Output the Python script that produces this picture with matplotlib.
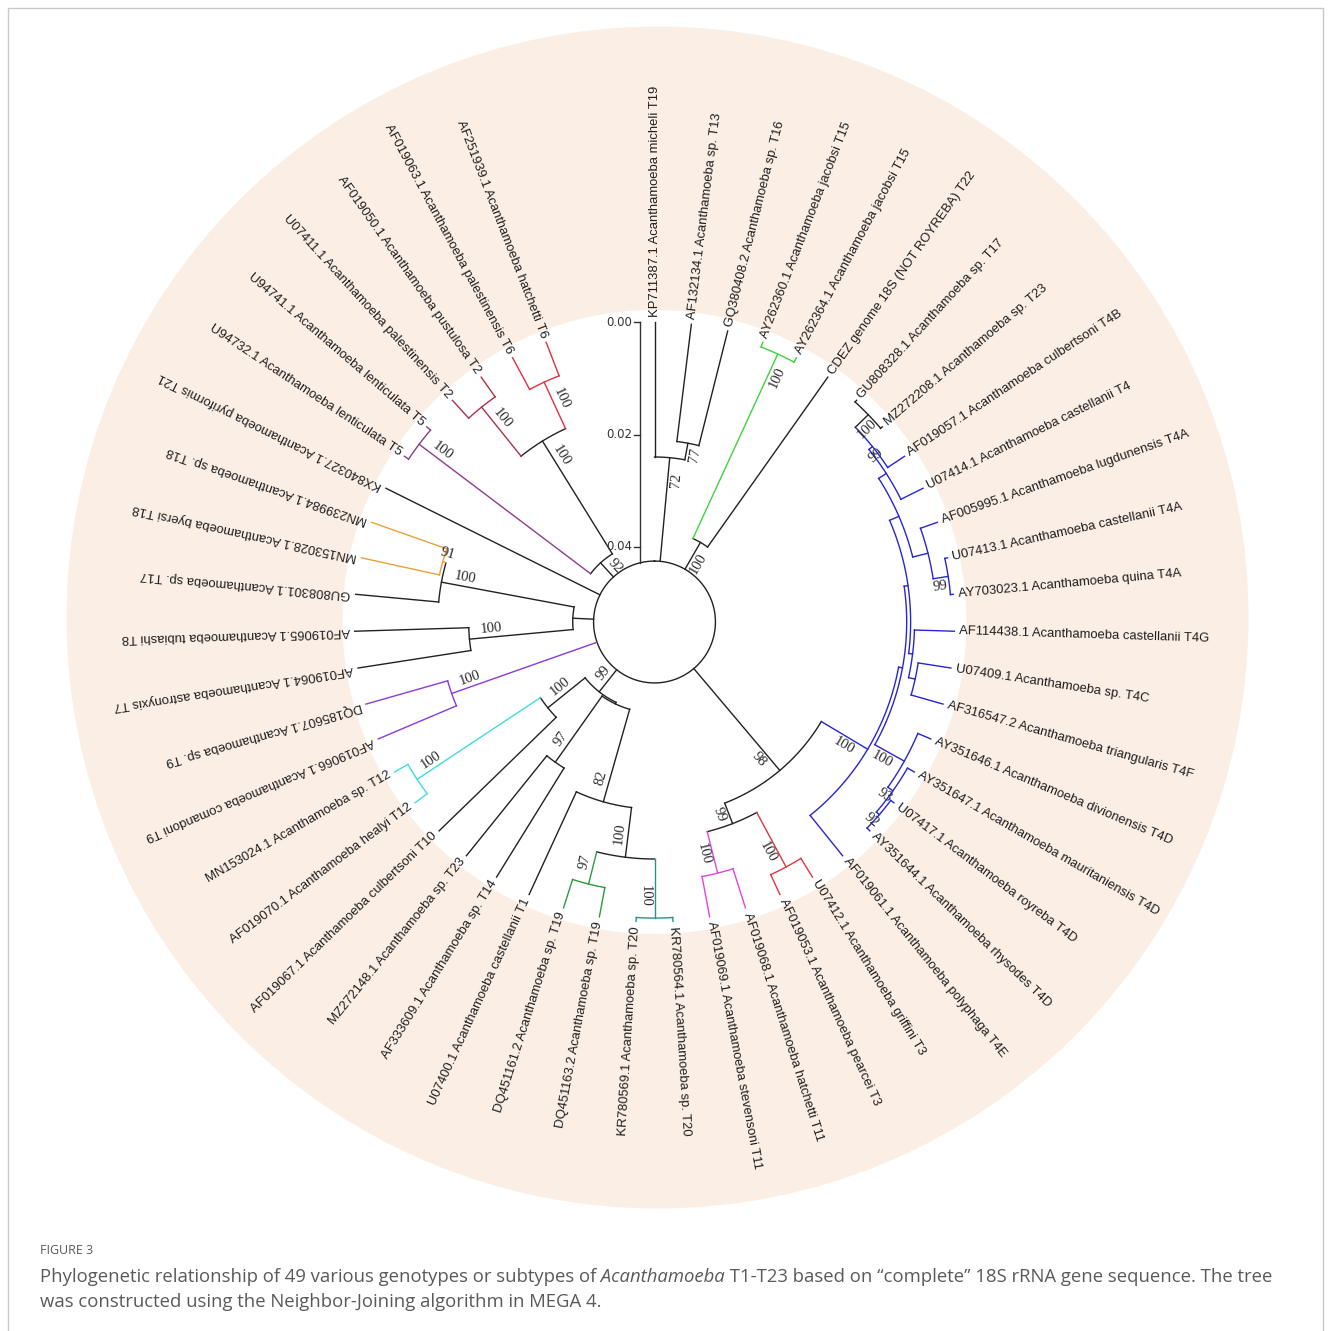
import numpy as np
import matplotlib
matplotlib.use("Agg")
import matplotlib.pyplot as plt
from matplotlib.patches import Rectangle

# tip labels, clockwise from the top
tip_labels = [
    "KP711387.1 Acanthamoeba micheli T19",
    "AF132134.1 Acanthamoeba sp. T13",
    "GQ380408.2 Acanthamoeba sp. T16",
    "AY262360.1 Acanthamoeba jacobsi T15",
    "AY262364.1 Acanthamoeba jacobsi T15",
    "CDEZ genome 18S (NOT ROYREBA) T22",
    "GU808328.1 Acanthamoeba sp. T17",
    "MZ272208.1 Acanthamoeba sp. T23",
    "AF019057.1 Acanthamoeba culbertsoni T4B",
    "U07414.1 Acanthamoeba castellanii T4",
    "AF005995.1 Acanthamoeba lugdunensis T4A",
    "U07413.1 Acanthamoeba castellanii T4A",
    "AY703023.1 Acanthamoeba quina T4A",
    "AF114438.1 Acanthamoeba castellanii T4G",
    "U07409.1 Acanthamoeba sp. T4C",
    "AF316547.2 Acanthamoeba triangularis T4F",
    "AY351646.1 Acanthamoeba divionensis T4D",
    "AY351647.1 Acanthamoeba mauritaniensis T4D",
    "U07417.1 Acanthamoeba royreba T4D",
    "AY351644.1 Acanthamoeba rhysodes T4D",
    "AF019061.1 Acanthamoeba polyphaga T4E",
    "U07412.1 Acanthamoeba griffini T3",
    "AF019053.1 Acanthamoeba pearcei T3",
    "AF019068.1 Acanthamoeba hatchetti T11",
    "AF019069.1 Acanthamoeba stevensoni T11",
    "KR780564.1 Acanthamoeba sp. T20",
    "KR780569.1 Acanthamoeba sp. T20",
    "DQ451163.2 Acanthamoeba sp. T19",
    "DQ451161.2 Acanthamoeba sp. T19",
    "U07400.1 Acanthamoeba castellanii T1",
    "AF333609.1 Acanthamoeba sp. T14",
    "MZ272148.1 Acanthamoeba sp. T23",
    "AF019067.1 Acanthamoeba culbertsoni T10",
    "AF019070.1 Acanthamoeba healyi T12",
    "MN153024.1 Acanthamoeba sp. T12",
    "AF019066.1 Acanthamoeba comandoni T9",
    "DQ185607.1 Acanthamoeba sp. T9",
    "AF019064.1 Acanthamoeba astronyxis T7",
    "AF019065.1 Acanthamoeba tubiashi T8",
    "GU808301.1 Acanthamoeba sp. T17",
    "MN153028.1 Acanthamoeba byersi T18",
    "MN239984.1 Acanthamoeba sp. T18",
    "KX840327.1 Acanthamoeba pyriformis T21",
    "U94732.1 Acanthamoeba lenticulata T5",
    "U94741.1 Acanthamoeba lenticulata T5",
    "U07411.1 Acanthamoeba palestinensis T2",
    "AF019050.1 Acanthamoeba pustulosa T2",
    "AF019063.1 Acanthamoeba palestinensis T6",
    "AF251939.1 Acanthamoeba hatchetti T6",
]

# internal nodes: children are tip indices or other node names
node_children = {
    "n2_3": [1, 2], "n1_23": [0, "n2_3"],
    "n4_5": [3, 4], "n45_6": ["n4_5", 5],
    "n7_8": [6, 7], "nX": ["n7_8", 8], "nY": ["nX", 9],
    "n12_13": [11, 12], "nZ": [10, "n12_13"], "nW": ["nY", "nZ"],
    "n15_16": [14, 15], "n14_": [13, "n15_16"], "nB": ["nW", "n14_"],
    "n19_20": [18, 19], "n18_": [17, "n19_20"], "nT4D": [16, "n18_"],
    "nA": ["nB", "nT4D"], "nT4": ["nA", 20],
    "n22_23": [21, 22], "n24_25": [23, 24], "nT3T11": ["n22_23", "n24_25"],
    "n98": ["nT4", "nT3T11"],
    "n26_27": [25, 26], "n28_29": [27, 28], "nP20": ["n26_27", "n28_29"],
    "n82": [29, "nP20"], "n31_32": [30, 31], "nT": ["n31_32", "n82"],
    "n34_35": [33, 34], "nQ": [32, "n34_35"], "n99": ["nT", "nQ"],
    "n36_37": [35, 36],
    "n38_39": [37, 38], "n41_42": [40, 41], "nH": [39, "n41_42"], "nG": ["n38_39", "nH"],
    "n44_45": [43, 44], "n46_47": [45, 46], "n48_49": [47, 48],
    "nT2T6": ["n46_47", "n48_49"], "nK": ["n44_45", "nT2T6"],
}
root_children = ["n1_23", "n45_6", "n98", "n99", "n36_37", "nG", 42, "nK"]
root_height = 0.0425

# node heights read against the scale bar (distance back from the tips)
node_height = {
    "n2_3": 0.0210, "n1_23": 0.0240, "n4_5": 0.0009, "n45_6": 0.0370,
    "n7_8": 0.0004, "nX": 0.0036, "nY": 0.0044, "n12_13": 0.0005,
    "nZ": 0.0032, "nW": 0.0060, "n15_16": 0.0059, "n14_": 0.0071,
    "nB": 0.0078, "n19_20": 0.0007, "n18_": 0.0014, "nT4D": 0.0025,
    "nA": 0.0085, "nT4": 0.0092, "n22_23": 0.0039, "n24_25": 0.0073,
    "nT3T11": 0.0149, "n98": 0.0188, "n26_27": 0.0007, "n28_29": 0.0053,
    "nP20": 0.0112, "n82": 0.0201, "n31_32": 0.0228, "nT": 0.0372,
    "n34_35": 0.0027, "nQ": 0.0290, "n99": 0.0375, "n36_37": 0.0151,
    "n38_39": 0.0203, "n41_42": 0.0142, "nH": 0.0148, "nG": 0.0388,
    "n44_45": 0.0009, "n46_47": 0.0043, "n48_49": 0.0064, "nT2T6": 0.0155,
    "nK": 0.0391,
}

# bootstrap support
node_boot = {
    "n2_3": 77, "n1_23": 72, "n4_5": 100, "n45_6": 100, "n7_8": 100, "nX": 99,
    "n12_13": 99, "nT4D": 100, "n18_": 93, "n19_20": 92, "nT4": 100,
    "n22_23": 100, "n24_25": 100, "nT3T11": 99, "n98": 98, "n26_27": 100,
    "n28_29": 97, "nP20": 100, "n82": 82, "n31_32": 97, "n34_35": 100,
    "nQ": 100, "n99": 99, "n36_37": 100, "n38_39": 100, "n41_42": 91,
    "nH": 100, "n44_45": 100, "n46_47": 100, "n48_49": 100, "nT2T6": 100,
    "nK": 92,
}

clade_colors = {
    "n4_5": "#3fd23f", "nT4": "#2626d4", "n7_8": "#222222",
    "n22_23": "#e0353d", "n24_25": "#e044e0", "n26_27": "#2e8e8e",
    "n28_29": "#2f9a3a", "n34_35": "#40dcdc", "n36_37": "#8a3adc",
    "n41_42": "#e8a23a", "n44_45": "#8c3c8c", "n46_47": "#a8324a",
    "n48_49": "#e0303e",
}

W = H = 1331
PX = 5625.0                 # pixels per substitution unit
R_TIP = 300 / PX            # radius of the tips (scale 0.00)
LW = 1.0
INK = "#222222"

fig = plt.figure(figsize=(W / 100, H / 100), dpi=100)


def polar_axes(cx, cy, rad_px):
    a = fig.add_axes([(cx - rad_px) / W, 1 - (cy + rad_px) / H,
                      2 * rad_px / W, 2 * rad_px / H], projection="polar")
    a.set_theta_zero_location("N")
    a.set_theta_direction(-1)
    a.set_ylim(0, rad_px / PX)
    a.set_xticks([])
    a.set_yticks([])
    a.grid(False)
    for s in a.spines.values():
        s.set_visible(False)
    return a


bg = polar_axes(657.5, 617.5, 591)
bg.set_facecolor("#fbeee5")
ax = polar_axes(654.5, 622, 591)
ax.set_facecolor("none")

circ = np.linspace(0, 2 * np.pi, 400)
ax.fill(circ, np.full_like(circ, 312 / PX), color="white", lw=0, zorder=0)

step = 2 * np.pi / (len(tip_labels) + 2)
tip_theta = [i * step for i in range(len(tip_labels))]


def theta_of(c):
    if isinstance(c, int):
        return tip_theta[c]
    return np.mean([theta_of(k) for k in node_children[c]])


def rad_of(c):
    if isinstance(c, int):
        return R_TIP
    return R_TIP - node_height[c]


def boot_label(name, th, r, parent_r):
    back = min(22 / PX, 0.6 * (r - parent_r))
    rl = r - back
    thl = th + (9 / PX) / rl
    deg = np.degrees(th) % 360
    rot = 90 - deg if deg <= 180 else 270 - deg
    ax.text(thl, rl, str(node_boot[name]), rotation=rot, rotation_mode="anchor",
            ha="center", va="center", fontsize=10.5, color="#2a2a2a",
            family="Liberation Serif")


def draw(name, color, parent_r):
    col = clade_colors.get(name, color)
    r, th = rad_of(name), theta_of(name)
    ax.plot([th, th], [parent_r, r], color=col, lw=LW)
    kids = node_children[name]
    ths = [theta_of(k) for k in kids]
    arc = np.linspace(min(ths), max(ths), 60)
    ax.plot(arc, np.full_like(arc, r), color=col, lw=LW)
    for k in kids:
        if isinstance(k, int):
            ax.plot([tip_theta[k]] * 2, [r, R_TIP], color=col, lw=LW)
        else:
            draw(k, col, r)
    if name in node_boot:
        boot_label(name, th, r, parent_r)


root_r = R_TIP - root_height
ax.plot(circ, np.full_like(circ, root_r), color=INK, lw=LW)
for c in root_children:
    if isinstance(c, int):
        ax.plot([tip_theta[c]] * 2, [root_r, R_TIP], color=INK, lw=LW)
    else:
        draw(c, INK, root_r)

# tip labels
for th, lab in zip(tip_theta, tip_labels):
    deg = np.degrees(th)
    if deg <= 180 or 243 < deg < 300:
        rot, ha = 90 - deg, "left"
    else:
        rot, ha = 270 - deg, "right"
    ax.text(th, R_TIP + 5 / PX, lab, rotation=rot, rotation_mode="anchor",
            ha=ha, va="center", fontsize=9.4, color="#1e1e1e", family="Liberation Sans")

# scale bar
scale_ticks = [0.00, 0.02, 0.04]
x_off = -14.5 / PX
ys = np.linspace(R_TIP, R_TIP - 0.0428, 60)
ax.plot(np.arctan2(x_off, ys), np.hypot(x_off, ys), color="#333333", lw=LW)
for v in scale_ticks:
    y = R_TIP - v
    xs = np.array([x_off - 6 / PX, x_off])
    ax.plot(np.arctan2(xs, y), np.hypot(xs, y), color="#333333", lw=LW)
    xl = x_off - 8 / PX
    ax.text(np.arctan2(xl, y), np.hypot(xl, y), f"{v:.2f}", ha="right", va="center",
            fontsize=8.5, color="#333333", family="Liberation Sans Narrow")

# frame and caption
fig.add_artist(Rectangle((8 / W, -0.01), 1315 / W, (H - 8) / H + 0.01,
                         transform=fig.transFigure, fill=False, ec="#c9c9c9", lw=1))
cap = dict(family="Open Sans", color="#5a5a5a", va="center")
fig.text(40 / W, 1 - 1250 / H, "FIGURE 3", fontsize=9, **cap)
fig.canvas.draw()
rend = fig.canvas.get_renderer()
y1 = 1 - 1277 / H
t1 = fig.text(40 / W, y1, "Phylogenetic relationship of 49 various genotypes or subtypes of",
              fontsize=13.3, **cap)
x = t1.get_window_extent(rend).x1 / W
t2 = fig.text(x, y1, " Acanthamoeba", fontsize=13.3, style="italic", **cap)
x = t2.get_window_extent(rend).x1 / W
fig.text(x, y1, " T1-T23 based on \u201ccomplete\u201d 18S rRNA gene sequence. The tree",
         fontsize=13.3, **cap)
fig.text(40 / W, 1 - 1302 / H,
         "was constructed using the Neighbor-Joining algorithm in MEGA 4.",
         fontsize=13.3, **cap)

fig.savefig("out.png", dpi=100)
